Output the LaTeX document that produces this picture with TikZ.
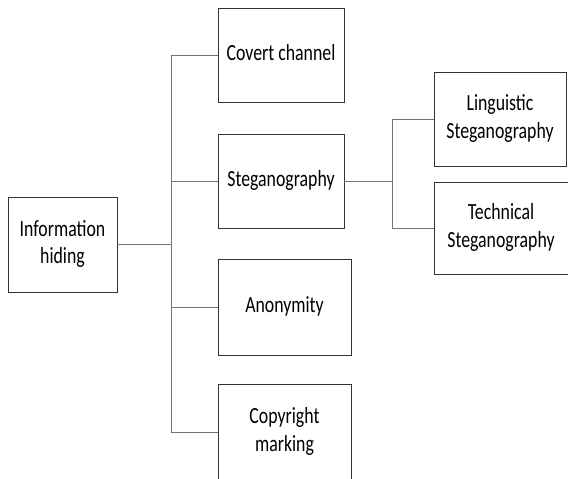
\documentclass[tikz,border=0pt]{standalone}
\usepackage{fontspec}
\setmainfont{Carlito}

% labels are a little taller than wide in the picture
\newcommand{\boxlabel}[1]{\raisebox{-3pt}{\scalebox{1}[1.3]{\begin{tabular}{@{}c@{}}#1\end{tabular}}}}

\tikzset{
  box/.style={draw=black!80, line width=0.9pt, inner sep=0pt, align=center,
    font=\fontsize{17.8}{21}\selectfont, text=black},
  link/.style={draw=black!55, line width=0.9pt}
}

\begin{document}
\begin{tikzpicture}[x=1pt,y=-1pt]  % pixel units, y pointing down

    \useasboundingbox (0,0) rectangle (568,479);

    % root box
    \node[box, minimum width=109pt, minimum height=95pt] (info) at (62.5,244.5) {\boxlabel{Information\\hiding}};

    % first level boxes
    \node[box, minimum width=126pt, minimum height=94pt] (covert) at (281,55) {\boxlabel{Covert channel}};
    \node[box, minimum width=126pt, minimum height=94pt] (steg) at (281,181) {\boxlabel{Steganography}};
    \node[box, minimum width=133pt, minimum height=96pt] (anon) at (284.5,307) {\boxlabel{Anonymity}};
    \node[box, minimum width=133pt, minimum height=95pt] (copy) at (284.5,432) {\boxlabel{Copyright\\marking}};

    % second level boxes
    \node[box, minimum width=132pt, minimum height=94pt] (ling) at (500,119) {\boxlabel{Linguistic\\Steganography}};
    \node[box, minimum width=134pt, minimum height=92pt] (tech) at (501,228) {\boxlabel{Technical\\Steganography}};

    % spines of the tree
    \coordinate (spine) at (171,0);
    \coordinate (subspine) at (392,0);

    % root to first level
    \draw[link] (info.east) -- (info.east -| spine);
    \draw[link] (covert.west) -- (covert.west -| spine) -- (copy.west -| spine) -- (copy.west);
    \draw[link] (steg.west) -- (steg.west -| spine);
    \draw[link] (anon.west) -- (anon.west -| spine);

    % steganography to second level
    \draw[link] (steg.east) -- (steg.east -| subspine);
    \draw[link] (ling.west) -- (ling.west -| subspine) -- (tech.west -| subspine) -- (tech.west);

\end{tikzpicture}
\end{document}
